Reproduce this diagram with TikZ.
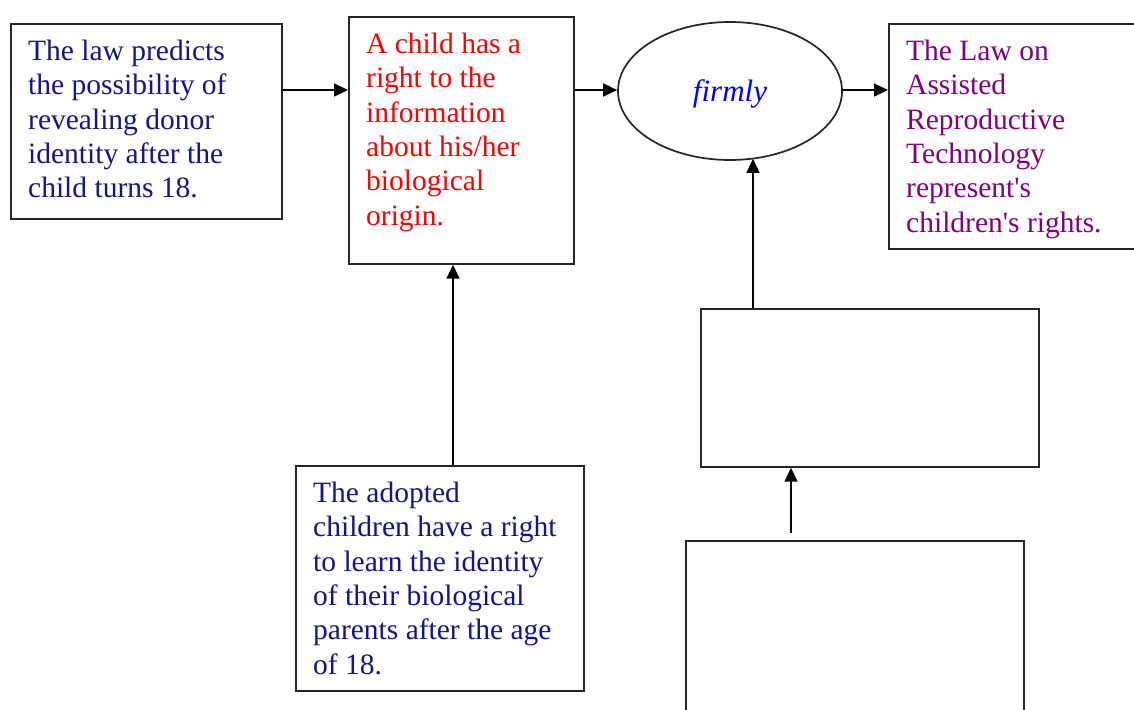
\documentclass[tikz,border=0pt]{standalone}
\usepackage{fontspec}
\setmainfont{Liberation Serif}[Ligatures=TeXOff]
\usetikzlibrary{arrows.meta,shapes.geometric,calc}
\definecolor{navytxt}{RGB}{20,20,140}
\definecolor{redtxt}{RGB}{255,0,0}
\definecolor{purpletxt}{RGB}{128,0,128}
\definecolor{bluetxt}{RGB}{0,0,255}
\begin{document}
\begin{tikzpicture}[x=1pt,y=-1pt,
  box/.style={draw=black!85,line width=1.7pt,rectangle,inner sep=0pt,anchor=north west},
  txt/.style={anchor=north west,inner sep=0pt,align=left,font=\fontsize{29.5}{34.4}\selectfont},
  arr/.style={draw=black,line width=1.5pt,-{Triangle[length=14pt,width=13pt]}}]
\useasboundingbox (0,0) rectangle (1134,709);
\clip (0,0) rectangle (1134,709);
\fill[white] (0,0) rectangle (1134,709);
% boxes
\node[box,minimum width=271pt,minimum height=195pt] (A) at (10,23) {};
\node[box,minimum width=225pt,minimum height=247pt] (B) at (348,16) {};
\node[draw=black!85,line width=1.7pt,ellipse,minimum width=224pt,minimum height=138pt,inner sep=0pt] (E) at (730,91) {};
\node[box,minimum width=280pt,minimum height=225pt] (D) at (888,23) {};
\node[box,minimum width=338pt,minimum height=158pt] (R) at (700,308) {};
\node[box,minimum width=338pt,minimum height=200pt] (F) at (685,540) {};
\node[box,minimum width=288pt,minimum height=225pt] (G) at (295,465) {};
% texts
\node[txt,text=navytxt] (tA) at (28,36) {\strut The law predicts\\the possibility of\\revealing donor\\identity after the\\child turns 18.};
\node[txt,text=redtxt] (tB) at (366,29) {\strut A child has a\\right to the\\information\\about his/her\\biological\\origin.};
\node[txt,text=purpletxt] (tD) at (906,36) {\strut The Law on\\Assisted\\Reproductive\\Technology\\represent's\\children's rights.};
\node[txt,text=navytxt] (tG) at (313,478) {\strut The adopted\\children have a right\\to learn the identity\\of their biological\\parents after the age\\of 18.};
\node[inner sep=0pt,text=bluetxt,font=\fontsize{31}{34}\selectfont\itshape] (tE) at ($(E.center)+(0,3)$) {firmly};
% connectors
\coordinate (gx) at (453,0);
\coordinate (ex) at (753,0);
\coordinate (ftail) at (791,533);
\coordinate (ay) at (0,90);
\draw[arr] (A.east |- ay) -- (B.west |- ay);
\draw[arr] (B.east |- ay) -- (E.west |- ay);
\draw[arr] (E.east |- ay) -- (D.west |- ay);
\draw[arr] (G.north -| gx) -- (B.south -| gx);
\draw[arr] (R.north -| ex) -- ($(E.south -| ex)+(0,-2)$);
\draw[arr] (ftail) -- (R.south -| ftail);
\end{tikzpicture}
\end{document}
